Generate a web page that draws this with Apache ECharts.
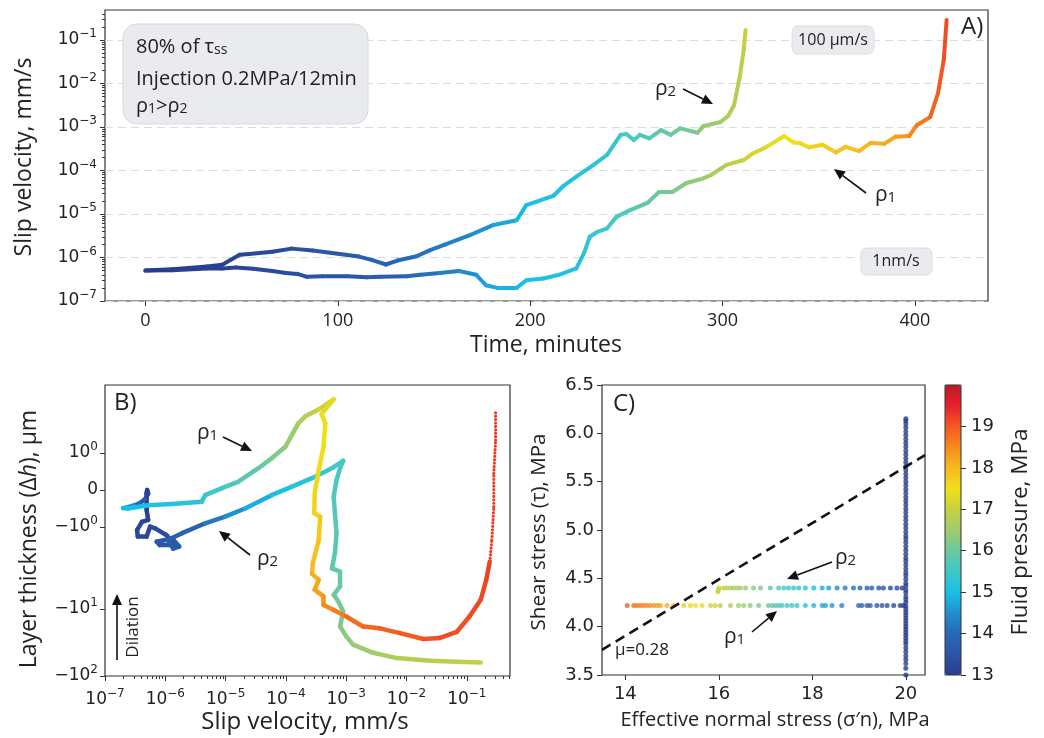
<!DOCTYPE html>
<html>
<head>
<meta charset="utf-8">
<script src="https://cdn.jsdelivr.net/npm/echarts@6/dist/echarts.min.js"></script>
<style>
  html, body { margin: 0; padding: 0; background: #fff; }
  #chart { width: 1044px; height: 738px; }
</style>
</head>
<body>
<div id="chart"></div>
<script>
// ---- panel A: slip velocity (mm/s) vs time (min), fluid pressure (MPa) as colour ----
const aTime1 = [0, 14, 32, 40, 47, 56, 66, 73, 79, 84, 92, 105, 115, 122, 136, 143, 153, 163, 172, 177,
  183, 193, 198, 207, 215, 224, 228, 231, 235, 240, 245, 252, 261, 267, 274, 281, 290, 294, 302, 311,
  316, 323, 332, 337, 340, 345, 352, 359, 364, 371, 377, 384, 390, 397, 401, 408, 412, 415, 416.5];
const aVel1 = [5.0e-7, 5.1e-7, 5.6e-7, 5.6e-7, 5.9e-7, 5.5e-7, 4.9e-7, 4.4e-7, 4.2e-7, 3.6e-7,
  3.7e-7, 3.7e-7, 3.5e-7, 3.6e-7, 3.7e-7, 4.0e-7, 4.4e-7, 4.9e-7, 4.0e-7, 2.3e-7,
  2.0e-7, 2.0e-7, 3.0e-7, 3.3e-7, 4.0e-7, 5.6e-7, 1.26e-6, 3.0e-6, 3.9e-6, 4.7e-6,
  8.7e-6, 1.23e-5, 1.8e-5, 3.2e-5, 3.2e-5, 5.1e-5, 6.6e-5, 7.9e-5, 1.35e-4, 1.74e-4,
  2.5e-4, 3.5e-4, 6.2e-4, 4.4e-4, 4.3e-4, 3.4e-4, 3.9e-4, 2.6e-4, 3.5e-4, 2.8e-4,
  4.3e-4, 4.1e-4, 6.0e-4, 6.2e-4, 1.1e-3, 1.7e-3, 5.9e-3, 3.5e-2, 0.29];
const aPf1 = [13.0, 13.05, 13.1, 13.15, 13.2, 13.25, 13.3, 13.35, 13.4, 13.45,
  13.5, 13.6, 13.7, 13.8, 14.0, 14.1, 14.3, 14.45, 14.6, 14.75,
  14.85, 15.0, 15.05, 15.1, 15.15, 15.2, 15.3, 15.35, 15.45, 15.55,
  15.65, 15.8, 15.95, 16.05, 16.2, 16.35, 16.55, 16.65, 16.9, 17.1,
  17.2, 17.35, 17.5, 17.55, 17.6, 17.7, 17.75, 17.85, 17.9, 18.0,
  18.1, 18.2, 18.35, 18.5, 18.7, 18.9, 19.0, 19.1, 19.2];

const aTime2 = [0, 14, 32, 40, 44, 49, 54, 66, 76, 87, 101, 111, 118, 125, 131, 141, 148, 156, 169, 181,
  193, 198, 203, 212, 217, 224, 233, 240, 247, 250, 254, 257, 262, 268, 273, 278, 287, 290, 299, 303,
  306, 309, 311, 312];
const aVel2 = [5.0e-7, 5.4e-7, 6.2e-7, 6.8e-7, 8.7e-7, 1.15e-6, 1.2e-6, 1.35e-6, 1.6e-6, 1.45e-6,
  1.2e-6, 1.05e-6, 8.7e-7, 6.9e-7, 8.5e-7, 1.07e-6, 1.48e-6, 2.0e-6, 3.3e-6, 5.6e-6,
  7.2e-6, 1.6e-5, 1.9e-5, 2.6e-5, 4.3e-5, 7.2e-5, 1.35e-4, 2.3e-4, 6.6e-4, 6.9e-4,
  5.0e-4, 6.6e-4, 5.5e-4, 8.5e-4, 6.6e-4, 9.3e-4, 7.4e-4, 1.05e-3, 1.3e-3, 1.8e-3,
  3.2e-3, 1.45e-2, 5.9e-2, 0.17];
const aPf2 = [13.0, 13.05, 13.1, 13.15, 13.15, 13.2, 13.25, 13.3, 13.4, 13.5,
  13.65, 13.75, 13.85, 13.9, 14.0, 14.1, 14.2, 14.3, 14.5, 14.75,
  14.95, 15.0, 15.05, 15.1, 15.12, 15.2, 15.3, 15.4, 15.55, 15.6,
  15.65, 15.7, 15.8, 15.9, 16.0, 16.1, 16.3, 16.4, 16.6, 16.7,
  16.8, 16.9, 16.95, 17.0];

// ---- panel B: layer thickness change (um) vs slip velocity (mm/s) ----
const bVel1 = [5.0e-7, 5.2e-7, 4.6e-7, 3.8e-7, 3.0e-7, 2.3e-7, 2.0e-7, 2.4e-7, 5.2e-7, 1.3e-6,
  4.0e-6, 4.6e-6, 8.7e-6, 1.6e-5, 3.5e-5, 5.8e-5, 9.8e-5, 1.6e-4, 2.1e-4, 3.5e-4,
  6.2e-4, 3.9e-4, 4.5e-4, 4.2e-4, 3.5e-4, 3.0e-4, 2.95e-4, 3.7e-4, 3.5e-4, 2.8e-4,
  2.7e-4, 3.5e-4, 3.0e-4, 4.2e-4, 4.2e-4, 6.2e-4, 1.0e-3, 1.9e-3, 3.6e-3, 7.8e-3,
  1.9e-2, 3.6e-2, 6.8e-2, 0.11, 0.17, 0.21, 0.24];
const bDh1 = [0, -0.1, -0.25, -0.35, -0.42, -0.47, -0.49, -0.5, -0.41, -0.38,
  -0.32, -0.14, 0.05, 0.22, 0.59, 0.86, 1.19, 2.3, 2.8, 3.4,
  4.5, 3.0, 2.3, 1.19, 0.54, -0.09, -0.63, -0.72, -1.44, -2.76,
  -3.7, -4.4, -5.8, -7.0, -8.9, -10.3, -12.9, -18.2, -19.4, -22.9,
  -28, -27, -22, -13, -7.7, -4.4, -2.65];
const bPf1 = [13.0, 13.2, 13.6, 14.0, 14.5, 14.8, 14.95, 15.0, 15.1, 15.2,
  15.35, 15.45, 15.6, 15.8, 16.0, 16.2, 16.45, 16.7, 16.85, 17.1,
  17.35, 17.45, 17.5, 17.55, 17.6, 17.65, 17.7, 17.8, 17.9, 18.0,
  18.1, 18.2, 18.3, 18.4, 18.5, 18.65, 18.8, 18.9, 18.95, 19.0,
  19.05, 19.1, 19.1, 19.15, 19.15, 19.2, 19.2];
// sparse (dotted) last part of rho1
const bTailVel = [0.24, 0.26, 0.28, 0.28, 0.30, 0.30];
const bTailDh = [-2.65, -1.44, -0.45, 0.45, 1.44, 3.2];
const bTailPf = [19.2, 19.22, 19.24, 19.26, 19.28, 19.3];

const bVel2 = [5.0e-7, 4.9e-7, 4.9e-7, 5.2e-7, 4.1e-7, 3.4e-7, 3.5e-7, 4.9e-7, 5.6e-7, 6.8e-7,
  1.05e-6, 1.45e-6, 8.1e-7, 7.2e-7, 1.3e-6, 1.7e-6, 1.35e-6, 1.1e-6, 1.9e-6, 4.6e-6,
  9.8e-6, 2.1e-5, 5.8e-5, 1.26e-4, 2.7e-4, 5.8e-4, 8.9e-4, 7.9e-4, 6.9e-4, 6.2e-4,
  6.5e-4, 6.9e-4, 6.5e-4, 5.8e-4, 7.9e-4, 7.9e-4, 6.2e-4, 7.4e-4, 8.9e-4, 7.9e-4,
  1.0e-3, 1.3e-3, 2.8e-3, 6.9e-3, 2.5e-2, 6.8e-2, 0.17];
const bDh2 = [0, -0.09, -0.54, -0.81, -0.86, -1.09, -1.31, -1.31, -0.99, -1.04,
  -1.26, -1.66, -1.66, -1.51, -1.38, -1.73, -1.83, -1.44, -1.19, -0.90,
  -0.72, -0.50, -0.14, 0.09, 0.32, 0.59, 0.79, 0.59, 0.27, -0.18,
  -0.63, -1.19, -2.09, -3.2, -3.5, -5.3, -6.7, -8.1, -10.9, -18.2,
  -25.6, -34, -45, -54, -59, -61, -63];
const bPf2 = [13.0, 13.05, 13.1, 13.15, 13.2, 13.2, 13.25, 13.25, 13.3, 13.35,
  13.4, 13.45, 13.5, 13.55, 13.6, 13.65, 13.7, 13.75, 13.85, 14.2,
  14.5, 14.8, 15.05, 15.2, 15.35, 15.5, 15.6, 15.62, 15.65, 15.7,
  15.75, 15.8, 15.85, 15.9, 15.95, 16.0, 16.05, 16.1, 16.15, 16.25,
  16.35, 16.45, 16.6, 16.75, 16.85, 16.95, 17.0];

// ---- panel C: shear stress vs effective normal stress ----
const normalStress = 33; // MPa, fluid pressure = normalStress - effective normal stress
const cSn1 = [14.04, 14.18, 14.25, 14.32, 14.39, 14.46, 14.53, 14.61, 14.68, 14.75, 14.89, 15.03,
  15.25, 15.39, 15.50, 15.64, 15.82, 15.92, 16.03, 16.25, 16.42, 16.53, 16.67, 16.85, 17.06,
  17.14, 17.21, 17.28, 17.35, 17.46, 17.56, 17.67, 17.85, 18.03, 18.21, 18.28, 18.42, 18.63,
  18.99, 19.06, 19.17, 19.24, 19.38, 19.49, 19.60, 19.74, 19.88, 19.95];
const cTau1 = 4.22;
const cSn2 = [15.98, 15.99, 16.00, 16.10, 16.17, 16.25, 16.32, 16.39, 16.46, 16.57, 16.74, 16.89,
  17.10, 17.28, 17.39, 17.49, 17.60, 17.71, 17.85, 18.03, 18.21, 18.35, 18.53, 18.70, 18.88,
  19.02, 19.17, 19.27, 19.42, 19.52, 19.67, 19.81, 19.92];
const cTau2 = [4.36, 4.38, 4.40, 4.40, 4.40, 4.40, 4.40, 4.40, 4.40, 4.40, 4.40, 4.40,
  4.40, 4.40, 4.40, 4.40, 4.40, 4.40, 4.40, 4.40, 4.40, 4.40, 4.40, 4.40, 4.40,
  4.40, 4.40, 4.40, 4.40, 4.40, 4.40, 4.40, 4.40];
const cColSn = 20;
const cColTau = [3.50, 3.57, 3.62, 3.66, 3.70, 3.74, 3.78, 3.82, 3.85, 3.88, 3.91, 3.94, 3.97, 4.00,
  4.03, 4.06, 4.09, 4.12, 4.15, 4.18, 4.21, 4.25, 4.28, 4.31, 4.35, 4.38, 4.42, 4.45, 4.49,
  4.53, 4.56, 4.60, 4.64, 4.68, 4.71, 4.75, 4.79, 4.83, 4.87, 4.91, 4.94, 4.98, 5.02, 5.06,
  5.10, 5.14, 5.18, 5.22, 5.26, 5.30, 5.34, 5.38, 5.42, 5.46, 5.50, 5.54, 5.58, 5.62, 5.66,
  5.70, 5.74, 5.78, 5.82, 5.86, 5.90, 5.94, 5.98, 6.02, 6.06, 6.10, 6.13, 6.15];
const frictionSn = [13.5, 20.41];
const frictionTau = [3.76, 5.775];

// ---- ticks ----
const aTicks = [0, 100, 200, 300, 400];
const decadeTicks = [1e-7, 1e-6, 1e-5, 1e-4, 1e-3, 1e-2, 1e-1];
const bYTickVals = [1, 0, -1, -10, -100];
const bYTickText = ['{b|10}{s|0}', '{b|0}', '{b|\u221210}{s|0}', '{b|\u221210}{s|1}', '{b|\u221210}{s|2}'];
const cXTicks = [14, 16, 18, 20];
const pfTicks = [13, 14, 15, 16, 17, 18, 19];

// colour map for 13..20 MPa
const jet = ['#283c90', '#2a55a8', '#2868b8', '#2090d0', '#18c0e8', '#40c8c8', '#6cc8a0', '#a0cc68',
  '#c8d040', '#f0e018', '#f8b820', '#f88a1c', '#f25a20', '#e8202c', '#b81c24'];

// symmetric-log layout of the thickness axis (matches the tick spacing of the figure)
function sym(v) {
  if (Math.abs(v) <= 1) return v;
  const l = Math.log10(Math.abs(v));
  if (v > 0) return 1 + 2.22 * l;
  if (l <= 1) return -1 - 2.22 * l;
  return -3.22 - 1.81 * (l - 1);
}

function zip3(xs, ys, ps, fy) {
  return xs.map((x, i) => [x, fy ? fy(ys[i]) : ys[i], ps[i]]);
}

const aData1 = zip3(aTime1, aVel1, aPf1);
const aData2 = zip3(aTime2, aVel2, aPf2);
const bData1 = zip3(bVel1, bDh1, bPf1, sym);
const bData2 = zip3(bVel2, bDh2, bPf2, sym);
const bTail = zip3(bTailVel, bTailDh, bTailPf, sym);
const cData1 = cSn1.map(s => [s, cTau1, normalStress - s]);
const cData2 = cSn2.map((s, i) => [s, cTau2[i], normalStress - s]);
const cCol = cColTau.map(t => [cColSn, t, normalStress - cColSn]);

function minorLogTicks(lo, hi) {
  const out = [];
  for (let k = -8; k <= 0; k++) {
    for (let m = 2; m <= 9; m++) {
      const v = m * Math.pow(10, k);
      if (v > lo && v < hi) out.push(v);
    }
  }
  return out;
}

// coloured path: each item draws the segment to the next item
function pathSeries(data, xi, yi, width, dash) {
  return {
    type: 'custom', xAxisIndex: xi, yAxisIndex: yi, data: data,
    encode: { x: 0, y: 1 }, clip: true, silent: true,
    renderItem: function (params, api) {
      const i = params.dataIndex;
      if (i >= data.length - 1) return null;
      const p = api.coord([api.value(0), api.value(1)]);
      const q = api.coord([data[i + 1][0], data[i + 1][1]]);
      return {
        type: 'line',
        shape: { x1: p[0], y1: p[1], x2: q[0], y2: q[1] },
        style: { stroke: api.visual('color'), lineWidth: width, lineCap: 'round', lineDash: dash || null }
      };
    }
  };
}

const INK = '#222';
const SANS = "'Open Sans', sans-serif";
const DJ = "'DejaVu Sans', sans-serif";
const supRich = {
  b: { fontFamily: DJ, fontSize: 17, color: INK, lineHeight: 24 },
  s: { fontFamily: DJ, fontSize: 12, color: INK, lineHeight: 12, verticalAlign: 'top' }
};
function powLabel(v) {
  const l = Math.log10(v), e = Math.round(l);
  if (Math.abs(l - e) > 0.01) return '';
  return '{b|10}{s|' + (e < 0 ? '\u2212' + (-e) : e) + '}';
}

const tick = (len, vals) => ({ show: true, inside: false, length: len, lineStyle: { color: '#333', width: 1 }, customValues: vals });
const noLine = { show: false, onZero: false };

function txt(x, y, text, size, extra) {
  return Object.assign({
    type: 'text', x: x, y: y, silent: true, z: 100,
    style: Object.assign({
      text: text, fontSize: size, fontFamily: SANS, fill: INK,
      textAlign: 'left', textVerticalAlign: 'middle', align: 'left', verticalAlign: 'middle'
    }, extra && extra.style)
  }, extra && extra.el);
}
function ctext(x, y, text, size, rot, rich) {
  return txt(x, y, text, size, {
    style: { textAlign: 'center', align: 'center', rich: rich },
    el: { rotation: rot || 0 }
  });
}
function arrow(x1, y1, x2, y2) {
  const ang = Math.atan2(y2 - y1, x2 - x1), L = 11, W = 5;
  const bx = x2 - L * Math.cos(ang), by = y2 - L * Math.sin(ang);
  const nx = -Math.sin(ang) * W, ny = Math.cos(ang) * W;
  return [
    { type: 'line', silent: true, z: 100, shape: { x1: x1, y1: y1, x2: bx, y2: by }, style: { stroke: '#111', lineWidth: 1.6 } },
    { type: 'polygon', silent: true, z: 100, shape: { points: [[x2, y2], [bx + nx, by + ny], [bx - nx, by - ny]] }, style: { fill: '#111' } }
  ];
}
const subRich = { s: { fontFamily: SANS, fontSize: 14, color: INK, lineHeight: 14, verticalAlign: 'bottom' } };
const rhoRich = { s: { fontFamily: SANS, fontSize: 15, color: INK, lineHeight: 15, verticalAlign: 'bottom' } };

const chart = echarts.init(document.getElementById('chart'), null, { renderer: 'canvas' });

chart.setOption({
  animation: false,
  backgroundColor: '#fff',
  grid: [
    { left: 105, top: 10, width: 883, height: 291, show: true, borderColor: '#333', borderWidth: 1.2 },
    { left: 105, top: 385, width: 405, height: 291, show: true, borderColor: '#333', borderWidth: 1.2 },
    { left: 602, top: 385, width: 323, height: 290, show: true, borderColor: '#333', borderWidth: 1.2 },
    { left: 945, top: 385, width: 16, height: 290, show: true, borderColor: '#333', borderWidth: 1, z: 10 }
  ],
  xAxis: [
    { gridIndex: 0, type: 'value', min: -21, max: 438, axisLine: noLine, splitLine: noLine,
      axisTick: tick(5, aTicks),
      axisLabel: { customValues: aTicks, fontFamily: SANS, fontSize: 18, color: INK, margin: 11 } },
    { gridIndex: 1, type: 'log', logBase: 10, min: 1e-7, max: 0.52, axisLine: noLine, splitLine: noLine,
      axisTick: tick(5, decadeTicks), minorTick: noLine,
      axisLabel: { customValues: decadeTicks, formatter: powLabel, rich: supRich, margin: 12 } },
    { gridIndex: 1, type: 'log', logBase: 10, min: 1e-7, max: 0.52, position: 'bottom', offset: 0,
      axisLine: noLine, splitLine: noLine, axisLabel: { show: false },
      axisTick: tick(3, minorLogTicks(1e-7, 0.52)) },
    { gridIndex: 2, type: 'value', min: 13.5, max: 20.41, axisLine: noLine, splitLine: noLine,
      axisTick: tick(5, cXTicks),
      axisLabel: { customValues: cXTicks, fontFamily: DJ, fontSize: 18, color: INK, margin: 10 } },
    { gridIndex: 3, type: 'value', min: 0, max: 1, show: false }
  ],
  yAxis: [
    { gridIndex: 0, type: 'log', logBase: 10, min: 1e-7, max: 0.49, axisLine: noLine,
      axisTick: tick(5, decadeTicks),
      splitLine: { show: true, lineStyle: { color: '#dcdcdc', width: 1.2, type: [8, 5] } },
      axisLabel: { customValues: decadeTicks, formatter: powLabel, rich: supRich, margin: 8 } },
    { gridIndex: 0, type: 'log', logBase: 10, min: 1e-7, max: 0.49, position: 'left', offset: 0,
      axisLine: noLine, splitLine: noLine, axisLabel: { show: false },
      axisTick: tick(3, minorLogTicks(1e-7, 0.49)) },
    { gridIndex: 1, type: 'value', min: sym(-100), max: 2.84, axisLine: noLine, splitLine: noLine,
      axisTick: tick(5, bYTickVals.map(sym)),
      axisLabel: {
        customValues: bYTickVals.map(sym), rich: supRich, margin: 7,
        formatter: function (d) {
          const i = bYTickVals.findIndex(v => Math.abs(sym(v) - d) < 1e-6);
          return i < 0 ? '' : bYTickText[i];
        }
      } },
    { gridIndex: 2, type: 'value', min: 3.5, max: 6.5, interval: 0.5, axisLine: noLine, splitLine: noLine,
      axisTick: tick(5),
      axisLabel: { fontFamily: DJ, fontSize: 18, color: INK, margin: 8, formatter: v => v.toFixed(1) } },
    { gridIndex: 3, type: 'value', min: 13, max: 20, position: 'right', z: 10,
      axisLine: noLine, splitLine: noLine,
      axisTick: tick(5, pfTicks),
      axisLabel: { customValues: pfTicks, fontFamily: DJ, fontSize: 18, color: INK, margin: 10 } }
  ],
  visualMap: {
    type: 'continuous', min: 13, max: 20, dimension: 2,
    seriesIndex: [0, 1, 2, 3, 4, 5, 6, 7],
    inRange: { color: jet },
    left: 945, top: 385, itemWidth: 16, itemHeight: 290, padding: 0,
    calculable: false, hoverLink: false, text: null, z: 4
  },
  series: [
    pathSeries(aData2, 0, 0, 4),
    pathSeries(aData1, 0, 0, 4),
    pathSeries(bData2, 1, 2, 4.5),
    pathSeries(bData1, 1, 2, 4.5),
    pathSeries(bTail, 1, 2, 3.2, [0.01, 3.4]),
    { type: 'scatter', xAxisIndex: 3, yAxisIndex: 3, data: cData1, symbolSize: 5, silent: true },
    { type: 'scatter', xAxisIndex: 3, yAxisIndex: 3, data: cData2, symbolSize: 5, silent: true },
    { type: 'scatter', xAxisIndex: 3, yAxisIndex: 3, data: cCol, symbolSize: 5, silent: true },
    { type: 'line', xAxisIndex: 3, yAxisIndex: 3, silent: true, z: 5,
      data: frictionSn.map((s, i) => [s, frictionTau[i]]), symbol: 'none',
      lineStyle: { color: '#111', width: 2.6, type: [10, 6] } }
  ],
  graphic: [
    // panel A annotations
    { type: 'rect', silent: true, z: 99, shape: { x: 123, y: 24, width: 245, height: 100, r: 14 },
      style: { fill: '#e9ebee', stroke: '#d6d9dd', lineWidth: 1 } },
    txt(136, 47, '80% of \u03c4{s|ss}', 20, { style: { rich: subRich } }),
    txt(136, 79, 'Injection 0.2MPa/12min', 20),
    txt(136, 106, '\u03c1{s|1}>\u03c1{s|2}', 20, { style: { rich: subRich } }),
    { type: 'rect', silent: true, z: 99, shape: { x: 792, y: 26, width: 82, height: 28, r: 6 },
      style: { fill: '#e9ebee', stroke: '#dadde0', lineWidth: 1 } },
    ctext(833, 40, '100 \u00b5m/s', 16),
    { type: 'rect', silent: true, z: 99, shape: { x: 861, y: 248, width: 71, height: 27, r: 6 },
      style: { fill: '#e9ebee', stroke: '#dadde0', lineWidth: 1 } },
    ctext(896, 261, '1nm/s', 16),
    txt(961, 27, 'A)', 24),
    txt(655, 89, '\u03c1{s|2}', 21, { style: { rich: rhoRich } }),
    ...arrow(683, 89, 713, 104),
    txt(875, 195, '\u03c1{s|1}', 21, { style: { rich: rhoRich } }),
    ...arrow(866, 193, 834, 169),
    // panel B annotations
    txt(114, 403, 'B)', 24),
    txt(197, 433, '\u03c1{s|1}', 21, { style: { rich: rhoRich } }),
    ...arrow(223, 437, 252, 451),
    txt(257, 559, '\u03c1{s|2}', 21, { style: { rich: rhoRich } }),
    ...arrow(250, 555, 219, 531),
    ctext(133, 627, 'Dilation', 17, Math.PI / 2),
    ...arrow(117, 660, 117, 594),
    // panel C annotations
    txt(613, 404, 'C)', 24),
    txt(835, 558, '\u03c1{s|2}', 21, { style: { rich: rhoRich } }),
    ...arrow(832, 562, 787, 579),
    txt(724, 637, '\u03c1{s|1}', 21, { style: { rich: rhoRich } }),
    ...arrow(752, 632, 777, 611),
    txt(615, 650, '\u03bc=0.28', 17),
    // axis titles
    ctext(24, 157, 'Slip velocity, mm/s', 23, Math.PI / 2),
    ctext(546, 345, 'Time, minutes', 23),
    ctext(29, 539, 'Layer thickness (\u0394{i|h}), \u03bcm', 23, Math.PI / 2,
      { i: { fontFamily: SANS, fontSize: 23, fontStyle: 'italic', color: INK } }),
    ctext(305, 722, 'Slip velocity, mm/s', 24),
    ctext(539, 532, 'Shear stress (\u03c4), MPa', 20.5, Math.PI / 2),
    ctext(775, 720, 'Effective normal stress (\u03c3\u2032n), MPa', 20),
    ctext(1021, 532, 'Fluid pressure, MPa', 22.5, Math.PI / 2)
  ]
});
</script>
</body>
</html>
